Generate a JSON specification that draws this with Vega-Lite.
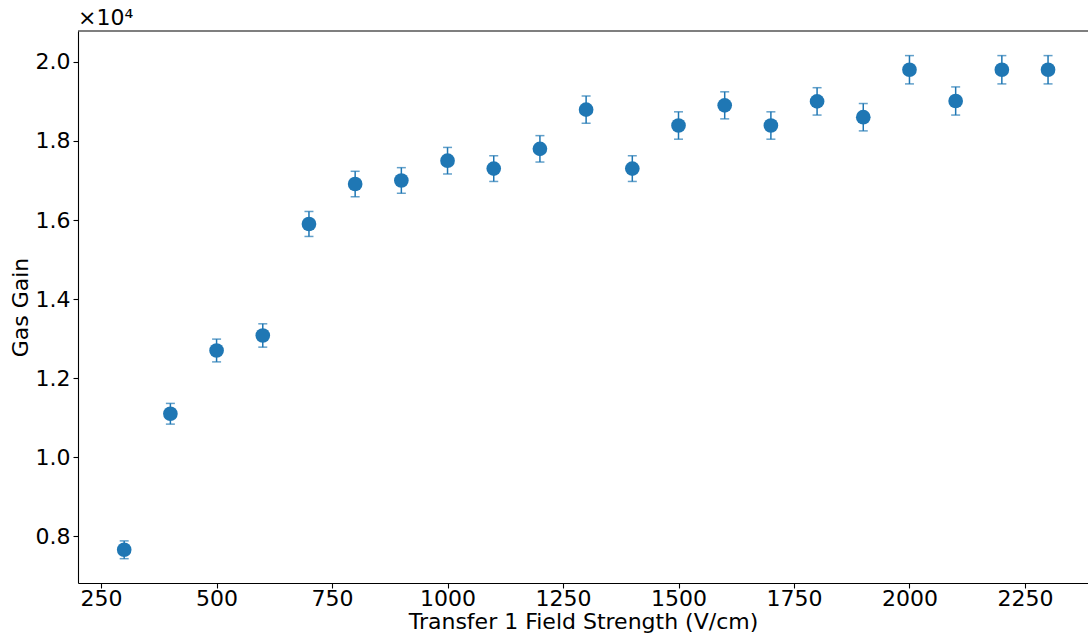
{
  "$schema": "https://vega.github.io/schema/vega-lite/v6.json",
  "autosize": {"type": "none"},
  "padding": {"left": 78, "top": 31, "right": 0, "bottom": 53},
  "width": 1010,
  "height": 552,
  "background": "white",
  "config": {
    "font": "DejaVu Sans",
    "view": {"stroke": null},
    "axis": {
      "grid": false,
      "domainColor": "#000000",
      "domainWidth": 1.1,
      "tickColor": "#000000",
      "tickWidth": 1.1,
      "tickSize": 5,
      "labelColor": "#000000",
      "labelFontSize": 22,
      "labelFont": "DejaVu Sans",
      "titleColor": "#000000",
      "titleFontSize": 22,
      "titleFont": "DejaVu Sans",
      "titleFontWeight": "normal"
    }
  },
  "title": {
    "text": "×10⁴",
    "anchor": "start",
    "frame": "group",
    "fontSize": 22,
    "font": "DejaVu Sans",
    "fontWeight": "normal",
    "color": "#000000",
    "offset": 0,
    "dx": 0
  },
  "data": {
    "values": [
      {"field": 300, "gain": 7660, "err": 225},
      {"field": 400, "gain": 11100, "err": 262},
      {"field": 500, "gain": 12700, "err": 288},
      {"field": 600, "gain": 13080, "err": 295},
      {"field": 700, "gain": 15900, "err": 316},
      {"field": 800, "gain": 16910, "err": 322},
      {"field": 900, "gain": 17000, "err": 324},
      {"field": 1000, "gain": 17500, "err": 336},
      {"field": 1100, "gain": 17300, "err": 325},
      {"field": 1200, "gain": 17800, "err": 334},
      {"field": 1300, "gain": 18790, "err": 346},
      {"field": 1400, "gain": 17300, "err": 325},
      {"field": 1500, "gain": 18390, "err": 346},
      {"field": 1600, "gain": 18900, "err": 342},
      {"field": 1700, "gain": 18390, "err": 346},
      {"field": 1800, "gain": 19000, "err": 346},
      {"field": 1900, "gain": 18600, "err": 346},
      {"field": 2000, "gain": 19800, "err": 358},
      {"field": 2100, "gain": 19010, "err": 356},
      {"field": 2200, "gain": 19800, "err": 358},
      {"field": 2300, "gain": 19800, "err": 358}
    ]
  },
  "layer": [
    {
      "mark": {"type": "errorbar", "color": "#1f77b4", "ticks": {"size": 9, "thickness": 1.5, "color": "#1f77b4"}, "rule": {"strokeWidth": 1.5}},
      "encoding": {
        "x": {
          "field": "field",
          "type": "quantitative",
          "scale": {"domain": [200, 2386.5], "nice": false, "zero": false},
          "axis": {
            "values": [250, 500, 750, 1000, 1250, 1500, 1750, 2000, 2250],
            "format": "d",
            "labelPadding": 0,
            "title": "Transfer 1 Field Strength (V/cm)",
            "titlePadding": 2
          }
        },
        "y": {
          "field": "gain",
          "type": "quantitative",
          "scale": {"domain": [6820, 20780], "nice": false, "zero": false},
          "axis": {
            "values": [8000, 10000, 12000, 14000, 16000, 18000, 20000],
            "labelExpr": "format(datum.value / 10000, '.1f')",
            "labelPadding": 3,
            "title": "Gas Gain",
            "titlePadding": 3
          }
        },
        "yError": {"field": "err"}
      }
    },
    {
      "mark": {"type": "point", "filled": true, "opacity": 1, "size": 215, "color": "#1f77b4"},
      "encoding": {
        "x": {"field": "field", "type": "quantitative"},
        "y": {"field": "gain", "type": "quantitative"}
      }
    },
    {
      "data": {"values": [{"edge": 20780}]},
      "mark": {"type": "rule", "color": "#000000", "strokeWidth": 1.1},
      "encoding": {
        "y": {"field": "edge", "type": "quantitative"}
      }
    }
  ]
}
